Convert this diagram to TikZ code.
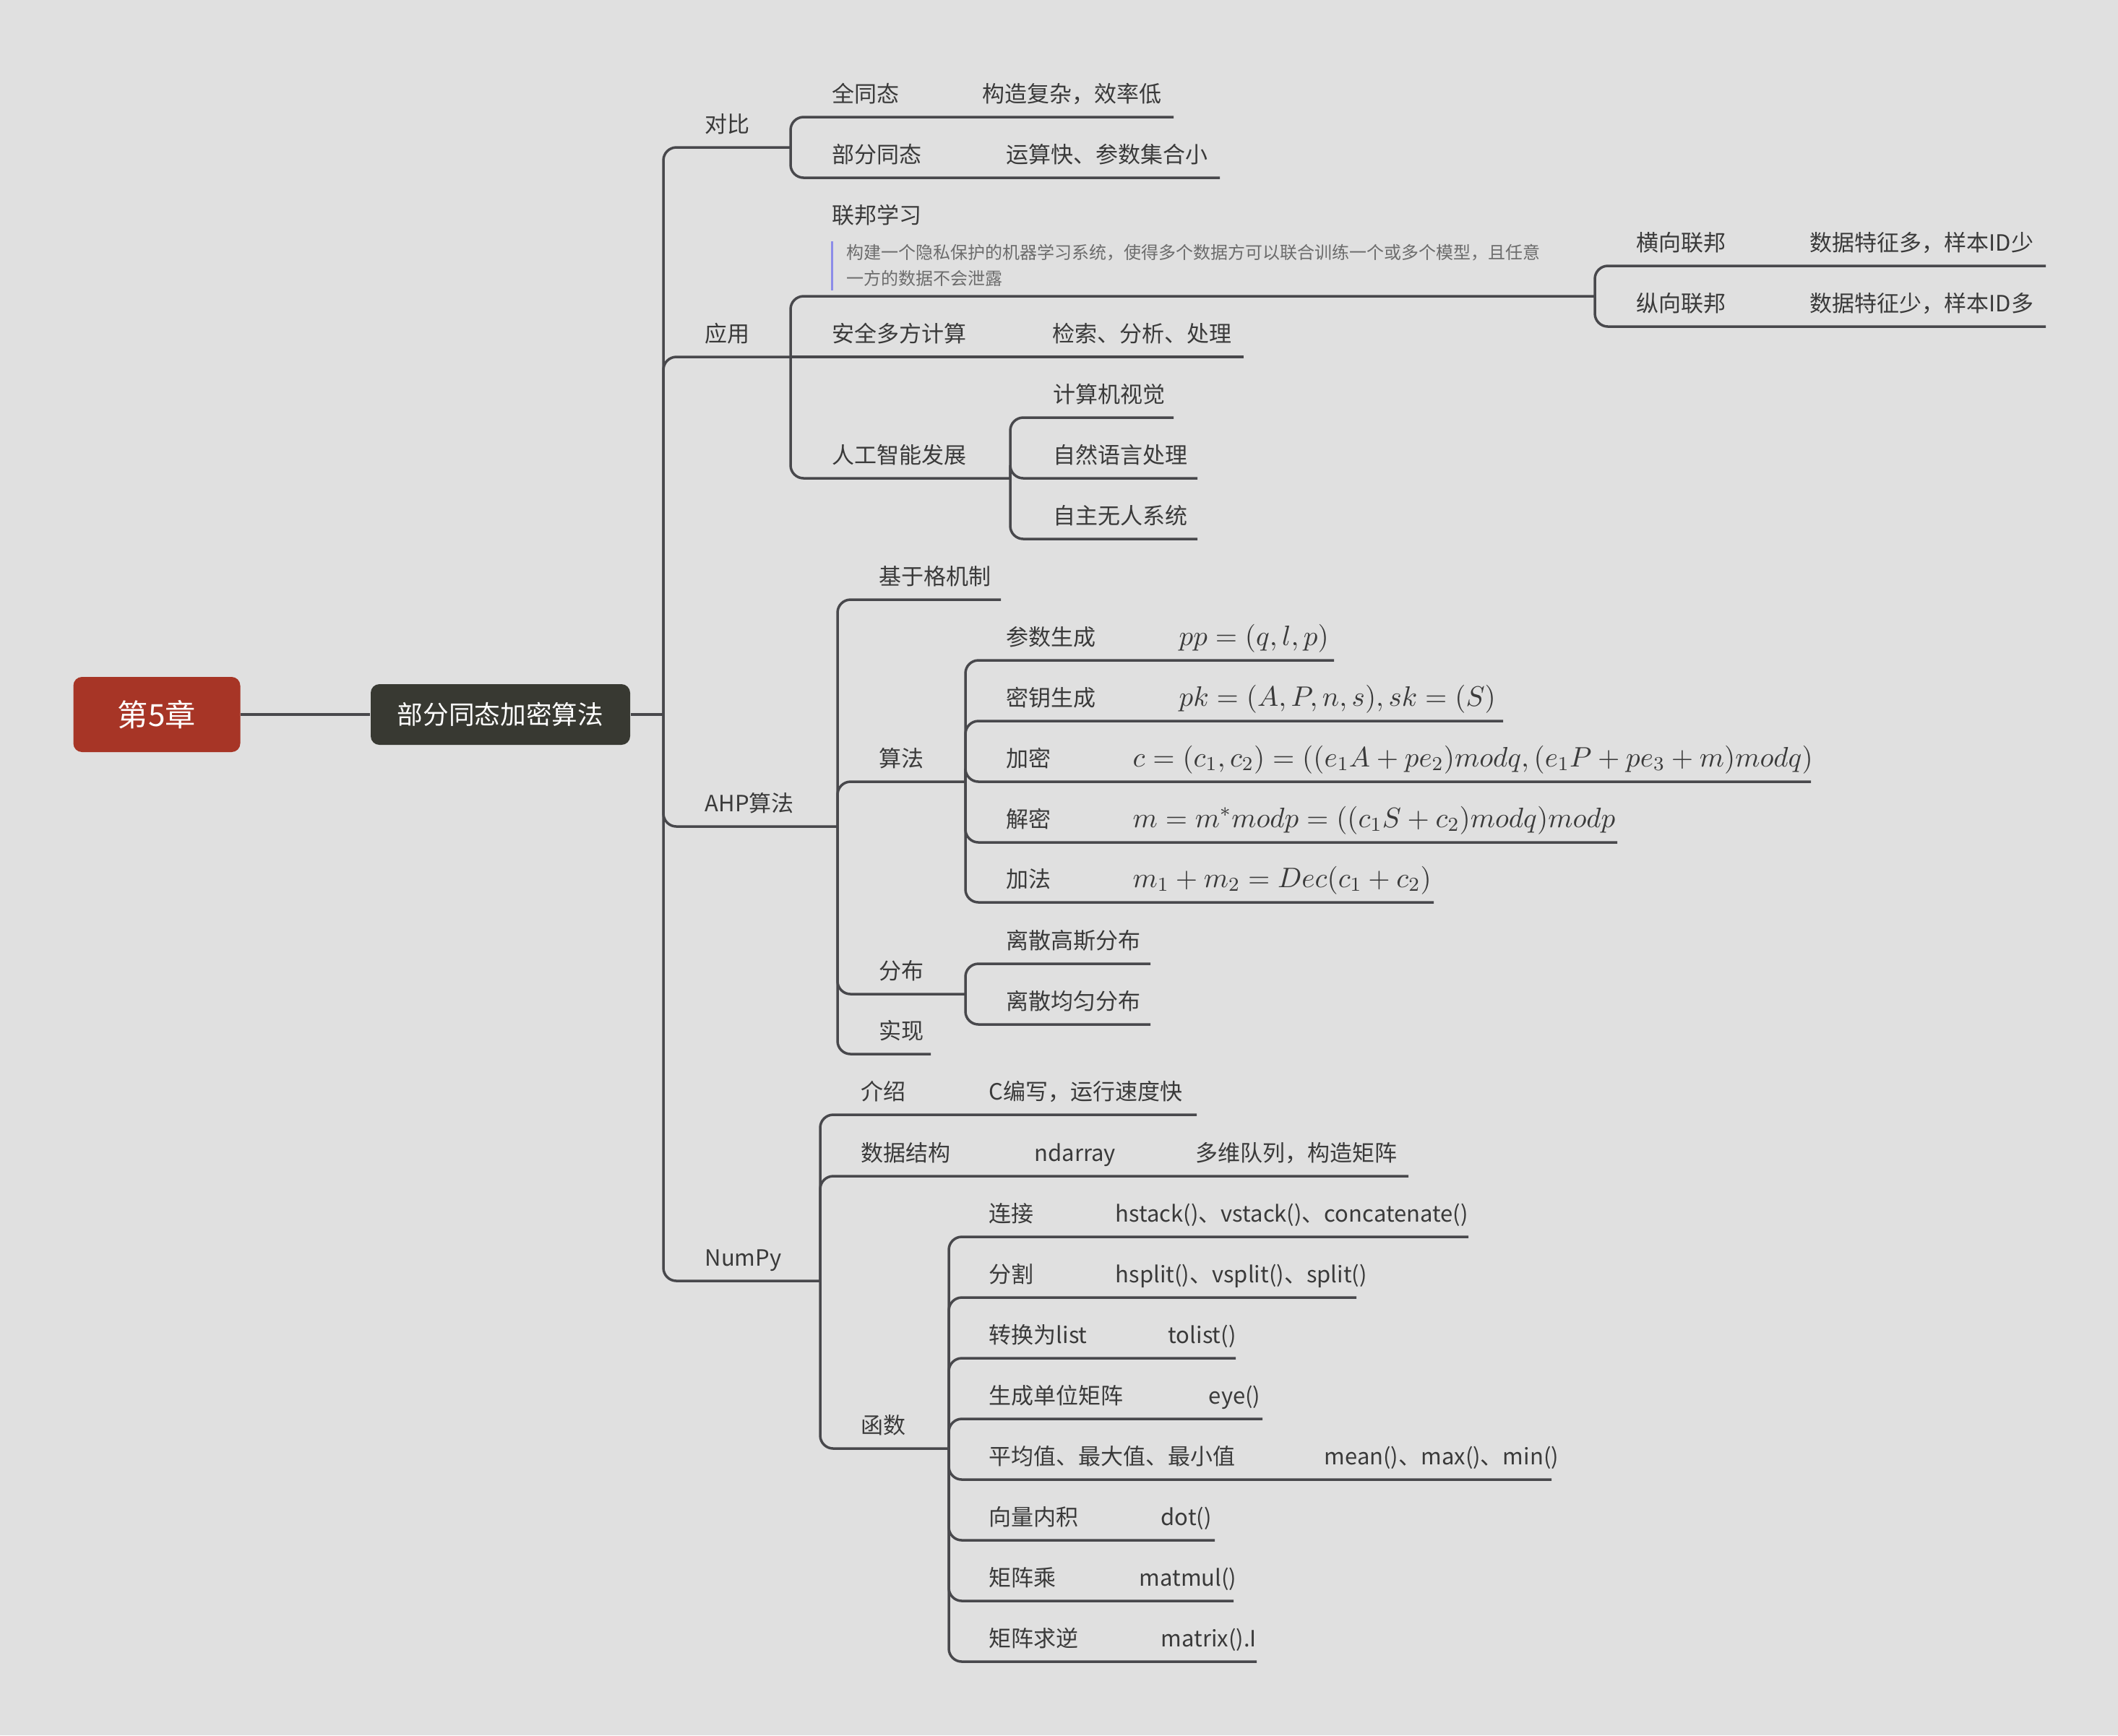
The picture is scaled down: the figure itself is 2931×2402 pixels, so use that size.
\RequirePackage{fix-cm}
\documentclass[tikz,border=0pt]{standalone}
\usepackage[no-math]{fontspec}
\setmainfont{Noto Sans CJK SC}
\usepackage{xcolor}
\usepackage{tikz}

\definecolor{bg}{RGB}{224,224,224}
\definecolor{linec}{RGB}{72,72,76}
\definecolor{txt}{RGB}{58,58,58}
\definecolor{notetxt}{RGB}{108,108,108}
\definecolor{notebar}{RGB}{140,140,232}
\definecolor{chapred}{RGB}{167,53,38}
\definecolor{maindark}{RGB}{56,57,50}

\begin{document}
\begin{tikzpicture}[
  x=0.3pt,y=-0.3pt,
  every node/.style={inner sep=0pt,text=txt},
  lbl/.style={anchor=base west,font=\fontsize{9.3}{11}\selectfont},
  fml/.style={anchor=base west,font=\fontsize{11.7}{14}\selectfont},
  notetext/.style={anchor=base west,font=\fontsize{7.2}{10}\selectfont,text=notetxt},
  link/.style={draw=linec,line width=1.05pt,rounded corners=5.4pt},
  chap/.style={fill=chapred,rounded corners=3.6pt,minimum width=69.3pt,minimum height=31.2pt,text=white,font=\fontsize{12.7}{15}\selectfont},
  mainbox/.style={fill=maindark,rounded corners=3.6pt,minimum width=107.7pt,minimum height=25.2pt,text=white,font=\fontsize{10.7}{13}\selectfont}
]
\fill[bg] (0,0) rectangle (2931,2402);
\useasboundingbox (0,0) rectangle (2931,2402);

% root and main topic
\node[chap] (chap) at (217,989) {第5章};
\node[mainbox] (algo) at (692.5,989) {部分同态加密算法};
\coordinate (bus) at (918,989);
\draw[link] (chap) -- (algo);
\draw[link] (algo.east) -- (bus);

% first level
\foreach \n/\y/\t/\e in {duibi/204/对比/1094, yingyong/494/应用/1094, ahp/1144/AHP算法/1159, numpy/1773/NumPy/1135}{
  \node[lbl] (\n) at (975,\y-21) {\t};
  \coordinate (\n-e) at (\e,\y);
  \draw[link] (bus) |- (\n-e);
}

% 对比
\foreach \n/\y/\a/\bx/\b/\e in {quan/162/全同态/1359/构造复杂，效率低/1624, bufen/246/部分同态/1392/运算快、参数集合小/1688}{
  \node[lbl] (\n) at (1151,\y-21) {\a};
  \node[lbl] (\n-d) at (\bx,\y-21) {\b};
  \coordinate (\n-e) at (\e,\y);
  \draw[link] (duibi-e) |- (\n-e);
}

% 应用
\node[lbl] (lianbang) at (1151,309) {联邦学习};
\draw[notebar,line width=0.9pt] (1151,334) -- (1151,402);
\node[notetext] (lbnote1) at (1171,358) {构建一个隐私保护的机器学习系统，使得多个数据方可以联合训练一个或多个模型，且任意};
\node[notetext] (lbnote2) at (1171,394) {一方的数据不会泄露};
\coordinate (lianbang-e) at (2207,410);
\draw[link] (yingyong-e) |- (lianbang-e);
\foreach \n/\y/\a/\b in {hengxiang/368/横向联邦/数据特征多，样本ID少, zongxiang/452/纵向联邦/数据特征少，样本ID多}{
  \node[lbl] (\n) at (2264,\y-21) {\a};
  \node[lbl] (\n-d) at (2504,\y-21) {\b};
  \coordinate (\n-e) at (2831,\y);
  \draw[link] (lianbang-e) |- (\n-e);
}
\node[lbl] (anquan) at (1151,473) {安全多方计算};
\node[lbl] (anquan-d) at (1456,473) {检索、分析、处理};
\coordinate (anquan-e) at (1721,494);
\draw[link] (yingyong-e) -- (anquan-e);
\node[lbl] (rengong) at (1151,641) {人工智能发展};
\coordinate (rengong-e) at (1398,662);
\draw[link] (yingyong-e) |- (rengong-e);
\foreach \n/\y/\t/\e in {shijue/578/计算机视觉/1624, yuyan/662/自然语言处理/1657, wuren/746/自主无人系统/1657}{
  \node[lbl] (\n) at (1457,\y-21) {\t};
  \coordinate (\n-e) at (\e,\y);
  \draw[link] (rengong-e) |- (\n-e);
}

% AHP算法
\foreach \n/\y/\t/\e in {geji/830/基于格机制/1385, suanfa/1082/算法/1336, fenbu/1376/分布/1336, shixian/1459/实现/1288}{
  \node[lbl] (\n) at (1216,\y-21) {\t};
  \coordinate (\n-e) at (\e,\y);
  \draw[link] (ahp-e) |- (\n-e);
}
\foreach \n/\y/\t/\fx/\f/\e in {canshu/914/参数生成/1631/{$pp=(q,l,p)$}/1846,
    miyao/998/密钥生成/1631/{$pk=(A,P,n,s),sk=(S)$}/2080,
    jiami/1082/加密/1567/{$c=(c_1,c_2)=((e_1A+pe_2)modq,(e_1P+pe_3+m)modq)$}/2506,
    jiemi/1166/解密/1567/{$m=m^*modp=((c_1S+c_2)modq)modp$}/2238,
    jiafa/1249/加法/1567/{$m_1+m_2=Dec(c_1+c_2)$}/1984}{
  \node[lbl] (\n) at (1392,\y-21) {\t};
  \node[fml] (\n-f) at (\fx,\y-21) {\f};
  \coordinate (\n-e) at (\e,\y);
  \draw[link] (suanfa-e) |- (\n-e);
}
\foreach \n/\y/\t in {gaosi/1334/离散高斯分布, junyun/1418/离散均匀分布}{
  \node[lbl] (\n) at (1392,\y-21) {\t};
  \coordinate (\n-e) at (1592,\y);
  \draw[link] (fenbu-e) |- (\n-e);
}

% NumPy
\node[lbl] (jieshao) at (1191,1522) {介绍};
\node[lbl] (jieshao-d) at (1368,1522) {C编写，运行速度快};
\coordinate (jieshao-e) at (1656,1543);
\draw[link] (numpy-e) |- (jieshao-e);
\node[lbl] (jiegou) at (1191,1607) {数据结构};
\node[lbl] (ndarray) at (1431,1607) {ndarray};
\node[lbl] (ndarray-d) at (1654,1607) {多维队列，构造矩阵};
\coordinate (jiegou-e) at (1949,1628);
\draw[link] (numpy-e) |- (jiegou-e);
\node[lbl] (hanshu) at (1191,1984) {函数};
\coordinate (hanshu-e) at (1313,2005);
\draw[link] (numpy-e) |- (hanshu-e);
\foreach \n/\y/\a/\bx/\b/\e in {lianjie/1712/连接/1543/hstack()、vstack()、concatenate()/2032,
    fenge/1796/分割/1543/hsplit()、vsplit()、split()/1877,
    zhuanhuan/1880/转换为list/1616/tolist()/1710,
    danwei/1964/生成单位矩阵/1672/eye()/1747,
    zuizhi/2048/平均值、最大值、最小值/1832/mean()、max()、min()/2147,
    neiji/2132/向量内积/1606/dot()/1681,
    chengfa/2216/矩阵乘/1576/matmul()/1707,
    qiuni/2300/矩阵求逆/1606/matrix().I/1739}{
  \node[lbl] (\n) at (1368,\y-21) {\a};
  \node[lbl] (\n-d) at (\bx,\y-21) {\b};
  \coordinate (\n-e) at (\e,\y);
  \draw[link] (hanshu-e) |- (\n-e);
}
\end{tikzpicture}
\end{document}
